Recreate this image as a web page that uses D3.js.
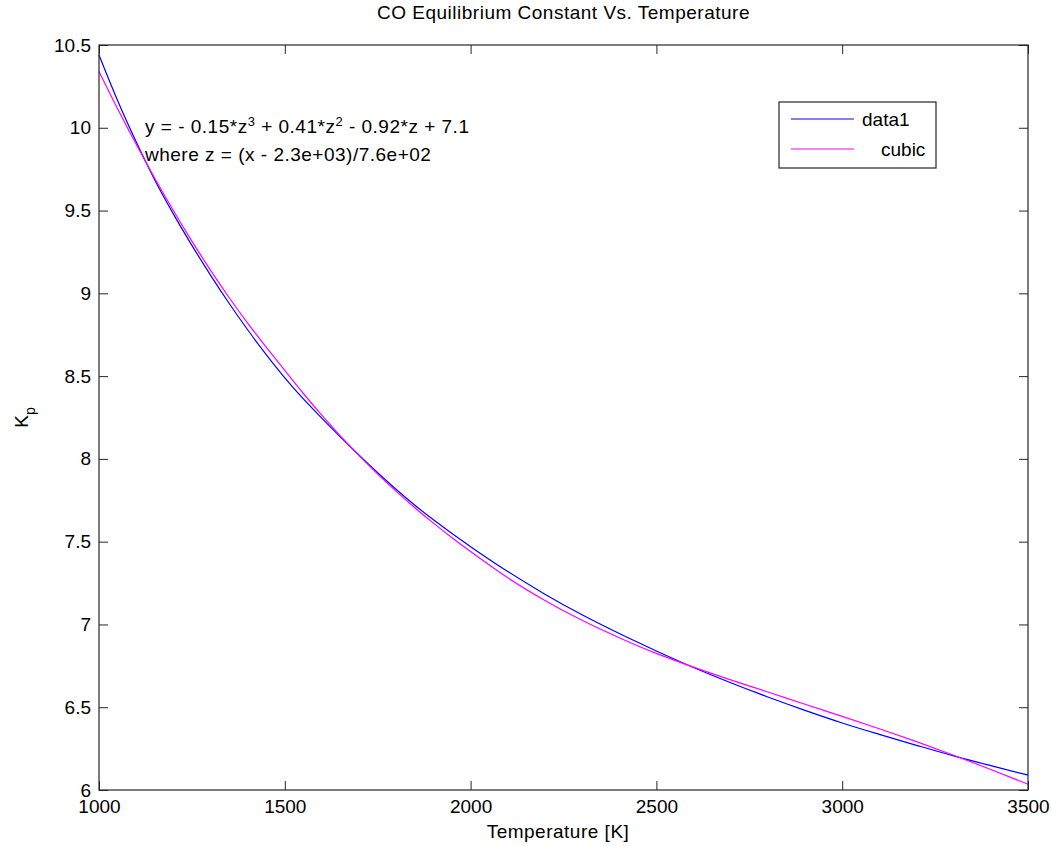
<!DOCTYPE html>
<html>
<head>
<meta charset="utf-8">
<script src="https://cdn.jsdelivr.net/npm/d3@7"></script>
<style>
  html, body { margin: 0; padding: 0; background: #fff; }
  svg { display: block; }
  text { font-family: "Liberation Sans", Arial, sans-serif; fill: #000; }
</style>
</head>
<body>
<svg id="chart" width="1052" height="846"></svg>
<script>
// ---- data ----
const temperatures = [1000,1050,1100,1150,1200,1250,1300,1350,1400,1450,1500,1550,1600,1650,1700,1750,1800,1850,1900,1950,2000,2100,2200,2300,2400,2500,2600,2700,2800,2900,3000,3100,3200,3300,3400,3500];
const data1Values = [10.44,10.165,9.915,9.685,9.48,9.29,9.11,8.94,8.78,8.63,8.49,8.362,8.245,8.132,8.022,7.916,7.815,7.72,7.632,7.549,7.47,7.32,7.183,7.058,6.945,6.84,6.74,6.648,6.562,6.481,6.405,6.336,6.27,6.206,6.147,6.09];
const cubicValues = [10.34,10.115,9.90,9.695,9.50,9.315,9.14,8.975,8.82,8.675,8.535,8.395,8.263,8.138,8.02,7.909,7.804,7.705,7.612,7.524,7.44,7.282,7.145,7.025,6.92,6.825,6.742,6.665,6.592,6.518,6.445,6.37,6.292,6.21,6.124,6.035];
const xTicks = [1000,1500,2000,2500,3000,3500];
const yTicks = [6,6.5,7,7.5,8,8.5,9,9.5,10,10.5];
const seriesNames = ["data1", "cubic"];
const seriesColors = ["#0000ff", "#ff00ff"];
const titleText = "CO Equilibrium Constant Vs. Temperature";
const xLabelText = "Temperature [K]";

// ---- layout ----
const svg = d3.select("#chart");
const L = 99, R = 1028, T = 45, B = 790;
const FS = 19;
const LS = "0.5px";
const x = d3.scaleLinear().domain([1000, 3500]).range([L, R]);
const y = d3.scaleLinear().domain([6, 10.5]).range([B, T]);

// axes (ticks pointing inward, box on all sides)
const fmtY = d => String(d);
const gB = svg.append("g").attr("transform", `translate(0,${B})`)
  .call(d3.axisBottom(x).tickValues(xTicks).tickSize(-9).tickPadding(10).tickFormat(d3.format("d")));
const gT = svg.append("g").attr("transform", `translate(0,${T})`)
  .call(d3.axisTop(x).tickValues(xTicks).tickSize(-9).tickFormat(""));
const gL = svg.append("g").attr("transform", `translate(${L},0)`)
  .call(d3.axisLeft(y).tickValues(yTicks).tickSize(-9).tickPadding(8).tickFormat(fmtY));
const gR = svg.append("g").attr("transform", `translate(${R},0)`)
  .call(d3.axisRight(y).tickValues(yTicks).tickSize(-9).tickFormat(""));
[gB, gT, gL, gR].forEach(g => {
  g.select(".domain").remove();
  g.selectAll(".tick line").attr("stroke", "#262626").attr("stroke-width", 1);
  g.selectAll(".tick text").attr("font-size", FS).attr("font-family", "Liberation Sans, Arial, sans-serif").attr("fill", "#000");
});

// curves
const lineGen = vals => d3.line()
  .x((d, i) => x(temperatures[i]))
  .y(d => y(d))
  .curve(d3.curveMonotoneX)(vals);

svg.append("path").attr("d", lineGen(data1Values))
  .attr("fill", "none").attr("stroke", seriesColors[0]).attr("stroke-width", 1.2);
svg.append("path").attr("d", lineGen(cubicValues))
  .attr("fill", "none").attr("stroke", seriesColors[1]).attr("stroke-width", 1.2);

// box
svg.append("rect").attr("x", L).attr("y", T).attr("width", R - L).attr("height", B - T)
  .attr("fill", "none").attr("stroke", "#262626").attr("stroke-width", 1.2);

// title and axis labels
svg.append("text").attr("x", (L + R) / 2).attr("y", 19).attr("text-anchor", "middle")
  .attr("font-size", FS).attr("letter-spacing", LS).text(titleText);
svg.append("text").attr("x", 558).attr("y", 838).attr("text-anchor", "middle")
  .attr("font-size", FS).attr("letter-spacing", LS).text(xLabelText);

const yl = svg.append("text").attr("transform", `translate(28,${(T + B) / 2}) rotate(-90)`)
  .attr("text-anchor", "middle").attr("font-size", FS);
yl.append("tspan").text("K");
yl.append("tspan").attr("dy", 7).attr("font-size", 14).text("p");

// equation annotation
const eq1 = svg.append("text").attr("x", 145).attr("y", 133).attr("font-size", FS).attr("letter-spacing", LS);
const parts = [["y = - 0.15*z", false], ["3", true], [" + 0.41*z", false], ["2", true], [" - 0.92*z + 7.1", false]];
parts.forEach(([t, sup]) => {
  eq1.append("tspan").attr("baseline-shift", sup ? "super" : null)
    .attr("font-size", sup ? 13 : FS).text(t);
});
svg.append("text").attr("x", 145).attr("y", 161).attr("font-size", FS).attr("letter-spacing", LS)
  .text("where z = (x - 2.3e+03)/7.6e+02");

// legend
const lg = svg.append("g");
lg.append("rect").attr("x", 779).attr("y", 102).attr("width", 157).attr("height", 66)
  .attr("fill", "#fff").attr("stroke", "#262626").attr("stroke-width", 1.2);
const legY = [119, 149];
const legX = [862, 881];
seriesNames.forEach((name, i) => {
  lg.append("line").attr("x1", 791).attr("x2", 854).attr("y1", legY[i]).attr("y2", legY[i])
    .attr("stroke", seriesColors[i]).attr("stroke-width", 1.2);
  lg.append("text").attr("x", legX[i]).attr("y", legY[i] + 7).attr("font-size", FS).text(name);
});
</script>
</body>
</html>
